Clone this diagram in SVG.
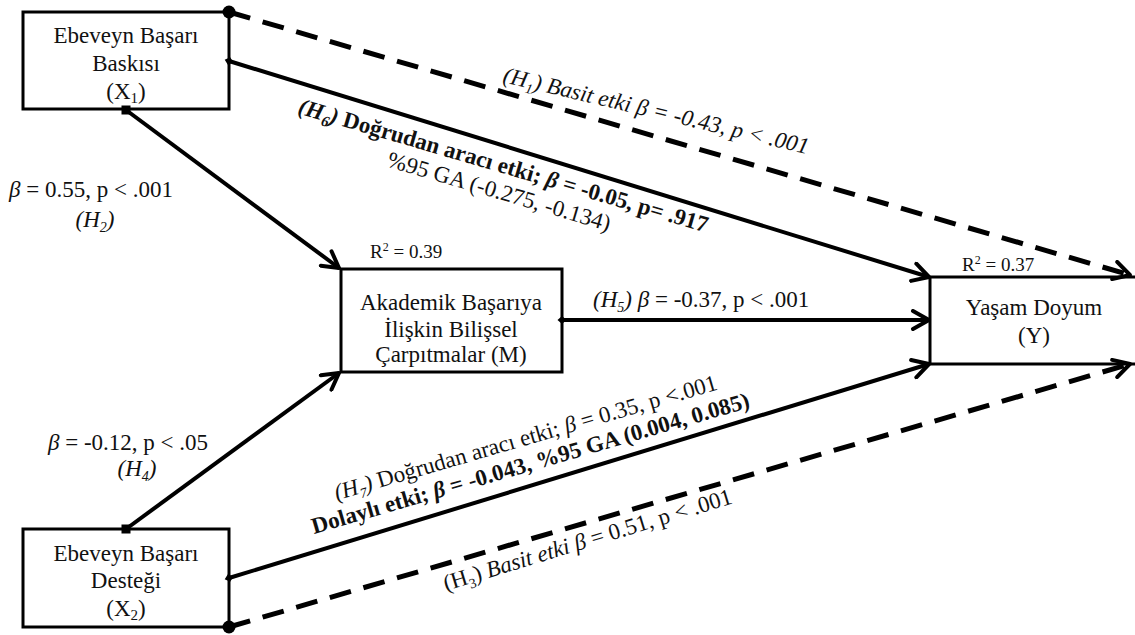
<svg xmlns="http://www.w3.org/2000/svg" width="1135" height="635" viewBox="0 0 1135 635">
  <style>
    .box { fill: #fff; stroke: #000; stroke-width: 3; }
    .nt { font-family: "Liberation Serif", "Times New Roman", serif; font-size: 23px; fill: #111; text-anchor: middle; }
    .lb { font-family: "Liberation Serif", "Times New Roman", serif; font-size: 23px; fill: #111; }
    .r2 { font-family: "Liberation Serif", "Times New Roman", serif; font-size: 19px; fill: #111; }
    .it { font-style: italic; }
    .bd { font-weight: bold; }
    .line { fill: none; stroke: #000; stroke-width: 4; }
    .dash { fill: none; stroke: #000; stroke-width: 5; stroke-dasharray: 22 13; }
  </style>
  <defs>
    <marker id="arrow" viewBox="0 0 22 22" refX="19" refY="11" markerWidth="22" markerHeight="22" orient="auto" markerUnits="userSpaceOnUse">
      <path d="M3,2 L19,11 L3,20" fill="none" stroke="#000" stroke-width="4" stroke-linecap="round" stroke-linejoin="round" stroke-dasharray="none"/>
    </marker>
    <marker id="dot" viewBox="-8 -8 16 16" refX="0" refY="0" markerWidth="16" markerHeight="16" markerUnits="userSpaceOnUse">
      <circle r="6.5" fill="#000"/>
    </marker>
    <marker id="diamond" viewBox="-6 -6 12 12" refX="0" refY="0" markerWidth="12" markerHeight="12" orient="auto" markerUnits="userSpaceOnUse">
      <path d="M-4.5,0 L0,-4 L4.5,0 L0,4 Z" fill="#000"/>
    </marker>
    <marker id="square" viewBox="-6 -6 12 12" refX="0" refY="0" markerWidth="12" markerHeight="12" markerUnits="userSpaceOnUse">
      <rect x="-4.5" y="-4.5" width="9" height="9" fill="#000"/>
    </marker>
  </defs>

  <!-- Nodes -->
  <g id="node-x1">
    <rect class="box" x="23" y="12" width="206" height="97"/>
    <text class="nt" x="126" y="43">Ebeveyn Başarı</text>
    <text class="nt" x="126" y="71">Baskısı</text>
    <text class="nt" x="126" y="99">(X<tspan font-size="15" dy="4">1</tspan><tspan dy="-4">)</tspan></text>
  </g>

  <g id="node-m">
    <rect class="box" x="341" y="269" width="221" height="103"/>
    <text class="nt" x="451" y="310">Akademik Başarıya</text>
    <text class="nt" x="451" y="337">İlişkin Bilişsel</text>
    <text class="nt" x="451" y="362">Çarpıtmalar (M)</text>
    <text class="r2" x="370" y="258">R<tspan font-size="12" dy="-7">2</tspan><tspan dy="7"> = 0.39</tspan></text>
  </g>

  <g id="node-y">
    <rect class="box" x="930" y="277" width="230" height="87"/>
    <text class="nt" x="1034" y="315">Yaşam Doyum</text>
    <text class="nt" x="1034" y="343">(Y)</text>
    <text class="r2" x="962" y="271">R<tspan font-size="12" dy="-7">2</tspan><tspan dy="7"> = 0.37</tspan></text>
  </g>

  <g id="node-x2">
    <rect class="box" x="23" y="529" width="206" height="98"/>
    <text class="nt" x="126" y="561">Ebeveyn Başarı</text>
    <text class="nt" x="126" y="588">Desteği</text>
    <text class="nt" x="126" y="616">(X<tspan font-size="15" dy="4">2</tspan><tspan dy="-4">)</tspan></text>
  </g>

  <!-- Connectors -->
  <g id="connectors">
    <path id="h1" class="dash" d="M229,12 L1130,275" marker-start="url(#dot)" marker-end="url(#arrow)"/>
    <path id="h6" class="line" d="M229,61 L929,277" marker-start="url(#diamond)" marker-end="url(#arrow)"/>
    <path id="h2" class="line" d="M126,110 L339,268" marker-start="url(#square)" marker-end="url(#arrow)"/>
    <path id="h5" class="line" d="M562,320 L929,320" marker-start="url(#diamond)" marker-end="url(#arrow)"/>
    <path id="h4" class="line" d="M126,529 L339,373" marker-start="url(#square)" marker-end="url(#arrow)"/>
    <path id="h7" class="line" d="M229,578 L929,364" marker-start="url(#diamond)" marker-end="url(#arrow)"/>
    <path id="h3" class="dash" d="M229,627 L1130,364" marker-start="url(#dot)" marker-end="url(#arrow)"/>
  </g>

  <!-- Path labels -->
  <g id="labels">
    <text class="lb it" font-size="22.5" transform="translate(502,82) rotate(13.3)">(H<tspan font-size="14" dy="5">1</tspan><tspan dy="-5">) Basit etki β = -0.43, p &lt; .001</tspan></text>

    <g transform="translate(297,113) rotate(16.3)">
      <text class="lb bd" font-size="24"><tspan class="it">(H</tspan><tspan class="it" font-size="15" dy="5">6</tspan><tspan class="it" dy="-5">)</tspan> Doğrudan aracı etki; <tspan class="it">β</tspan> = -0.05, p= .917</text>
      <text class="lb" x="216" y="26" text-anchor="middle">%95 GA (-0.275, -0.134)</text>
    </g>

    <text class="lb" x="91" y="197" text-anchor="middle"><tspan class="it">β</tspan> = 0.55, p &lt; .001</text>
    <text class="lb it" x="95" y="227" text-anchor="middle">(H<tspan font-size="14" dy="5">2</tspan><tspan dy="-5">)</tspan></text>

    <text class="lb" x="593" y="307"><tspan class="it">(H</tspan><tspan class="it" font-size="14" dy="5">5</tspan><tspan class="it" dy="-5">)</tspan> <tspan class="it">β</tspan> = -0.37, p &lt; .001</text>

    <text class="lb" x="128" y="450" text-anchor="middle"><tspan class="it">β</tspan> = -0.12, p &lt; .05</text>
    <text class="lb it" x="137" y="476" text-anchor="middle">(H<tspan font-size="14" dy="5">4</tspan><tspan dy="-5">)</tspan></text>

    <g transform="translate(314,534) rotate(-16.2)">
      <text class="lb" x="230" y="-26" text-anchor="middle"><tspan class="it">(H</tspan><tspan class="it" font-size="14" dy="5">7</tspan><tspan class="it" dy="-5">)</tspan> Doğrudan aracı etki; <tspan class="it">β</tspan> = 0.35, p &lt;.001</text>
      <text class="lb bd" font-size="24">Dolaylı etki; <tspan class="it">β</tspan> = -0.043, %95 GA (0.004, 0.085)</text>
    </g>

    <text class="lb" font-size="21.5" transform="translate(446,591) rotate(-17)">(H<tspan font-size="14" dy="5">3</tspan><tspan dy="-5">) </tspan><tspan class="it">Basit etki</tspan> <tspan class="it">β</tspan> = 0.51, p &lt; .001</text>
  </g>
</svg>
